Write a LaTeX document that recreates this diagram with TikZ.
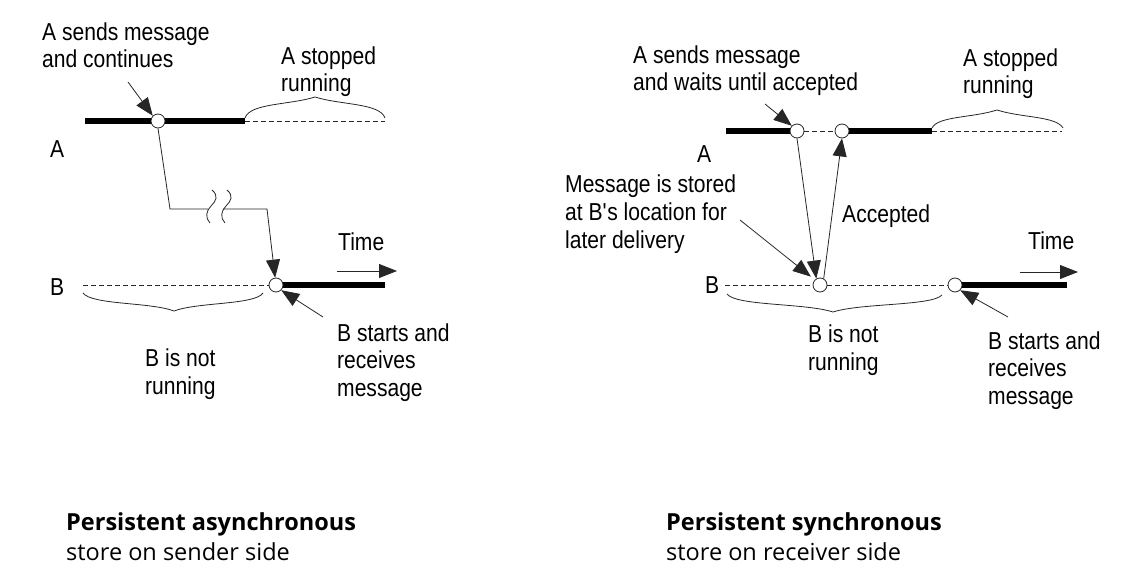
\documentclass[tikz,border=0pt]{standalone}
\usepackage{fontspec}
\setmainfont[FakeStretch=0.86]{Liberation Sans}
\newfontfamily\capfont{Open Sans}
\usetikzlibrary{arrows.meta}
\pgfdeclarelayer{bg}
\pgfsetlayers{bg,main}
\begin{document}
\begin{tikzpicture}[x=1pt,y=-1pt,
  lbl/.style={font=\fontsize{24.5}{27.5}\selectfont, inner sep=0pt, anchor=base west, align=left},
  captxt/.style={font=\capfont\fontsize{23.5}{30}\selectfont, inner sep=0pt, anchor=base west, align=left},
  thinln/.style={line width=0.8pt, draw=black!85},
  dsh/.style={thinln, dash pattern=on 5pt off 3pt},
  thk/.style={line width=6pt, draw=black},
  evt/.style={circle, draw=black!85, line width=0.8pt, fill=white, minimum size=14pt, inner sep=0pt},
  ptr/.style={thinln, -{Triangle[length=18pt,width=14pt]}},
]
\useasboundingbox (0,0) rectangle (1122,588);

% ---------------- left diagram ----------------
\node[evt] (Ls) at (158,121) {};
\node[evt] (Lr) at (276,285) {};
\coordinate (la0) at (85,121);
\coordinate (la1) at (245,121);
\coordinate (la2) at (385,121);
\coordinate (lb0) at (83,285);
\coordinate (lb1) at (385,285);
\coordinate (lk1) at (170,209);
\coordinate (lg1) at (208,209);
\coordinate (lg2) at (223,209);
\coordinate (lk2) at (267,209);
\coordinate (lt0) at (337,271);
\coordinate (lt1) at (397,271);
\coordinate (lp1) at (128,82);
\coordinate (lp2) at (323,317);

\begin{pgfonlayer}{bg}
\draw[thk] (la0) -- (la1);
\draw[dsh] (la1) -- (la2);
\draw[dsh] (lb0) -- (Lr.west);
\draw[thk] (Lr.east) -- (lb1);
\end{pgfonlayer}
\draw[thinln] (Ls.south) -- (lk1) -- (lg1);
\draw[ptr] (lg2) -- (lk2) -- (Lr);
\draw[thinln] (212,190) .. controls (219,196) and (216,201) .. (211,206) .. controls (206,211) and (205,218) .. (210,223);
\draw[thinln] (227,190) .. controls (234,196) and (231,201) .. (226,206) .. controls (221,211) and (220,218) .. (225,223);
\draw[ptr] (lt0) -- (lt1);
\draw[ptr] (lp1) -- (Ls.north west);
\draw[ptr] (lp2) -- (Lr.-45);
% braces
\draw[thinln] (245,118) .. controls (250,103) and (290,105) .. (315,97) .. controls (340,105) and (380,103) .. (385,118);
\draw[thinln] (83,293) .. controls (92,305) and (150,302) .. (174,311) .. controls (198,302) and (255,305) .. (263,293);

\node[lbl] (lA) at (50,158) {A};
\node[lbl] (lB) at (50,295) {B};
\node[lbl] (lsend) at (42,68) {A sends message\\and continues};
\node[lbl] (lstop) at (281,92) {A stopped\\running};
\node[lbl] (ltime) at (338,251) {Time};
\node[lbl] (lstart) at (337,396) {B starts and\\receives\\message};
\node[lbl] (lnot) at (145,394) {B is not\\running};

% ---------------- right diagram ----------------
\node[evt] (C1) at (797,131) {};
\node[evt] (C2) at (842,131) {};
\node[evt] (C3) at (820,285) {};
\node[evt] (C4) at (955,285) {};
\coordinate (ra0) at (726,131);
\coordinate (ra1) at (932,131);
\coordinate (ra2) at (1062,131);
\coordinate (rb0) at (725,285);
\coordinate (rb1) at (1067,285);
\coordinate (rt0) at (1020,272);
\coordinate (rt1) at (1078,272);
\coordinate (rp1) at (765,104);
\coordinate (rp2) at (740,220);
\coordinate (rp3) at (1008,317);

\begin{pgfonlayer}{bg}
\draw[thk] (ra0) -- (C1.west);
\draw[dsh] (C1.east) -- (C2.west);
\draw[thk] (C2.east) -- (ra1);
\draw[dsh] (ra1) -- (ra2);
\draw[dsh] (rb0) -- (C3.west);
\draw[dsh] (C3.east) -- (C4.west);
\draw[thk] (C4.east) -- (rb1);
\end{pgfonlayer}
\draw[ptr] (C1.south) -- (C3.120);
\draw[ptr] (C3.60) -- (C2.south);
\draw[ptr] (rt0) -- (rt1);
\draw[ptr] (rp1) -- (C1.north west);
\draw[ptr, shorten >=5pt] (rp2) -- (C3.north west);
\draw[ptr] (rp3) -- (C4.south east);
% braces
\draw[thinln] (932,128) .. controls (938,116) and (972,118) .. (997,110) .. controls (1022,118) and (1056,116) .. (1063,128);
\draw[thinln] (727,294) .. controls (736,306) and (805,303) .. (833,312) .. controls (861,303) and (932,306) .. (942,295);

\node[lbl] (rA) at (697,163) {A};
\node[lbl] (rB) at (705,293) {B};
\node[lbl] (rsend) at (633,91) {A sends message\\and waits until accepted};
\node[lbl] (rstop) at (963,94) {A stopped\\running};
\node[lbl] (rstore) at (565,248) {Message is stored\\at B\textquotesingle s location for\\later delivery};
\node[lbl] (racc) at (842,223) {Accepted};
\node[lbl] (rtime) at (1028,250) {Time};
\node[lbl] (rnot) at (808,370) {B is not\\running};
\node[lbl] (rstart) at (988,404) {B starts and\\receives\\message};

% ---------------- captions ----------------
\node[captxt] (capL) at (66,560) {\textbf{Persistent asynchronous}\\store on sender side};
\node[captxt] (capR) at (666,560) {\textbf{Persistent synchronous}\\store on receiver side};
\end{tikzpicture}
\end{document}
